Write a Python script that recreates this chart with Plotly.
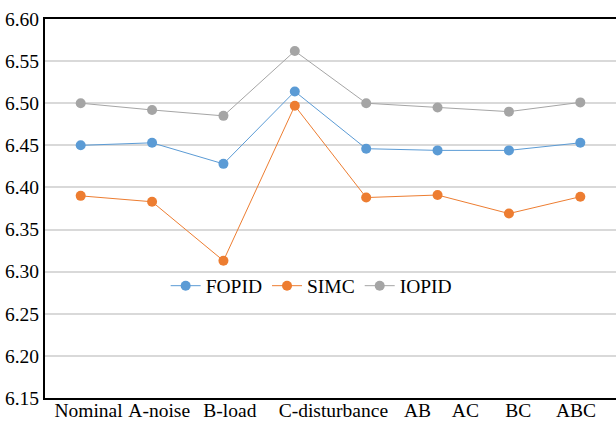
import plotly.graph_objects as go

categories = ["Nominal", "A-noise", "B-load", "C-disturbance", "AB", "AC", "BC", "ABC"]
fopid = [6.450, 6.453, 6.428, 6.514, 6.446, 6.444, 6.444, 6.453]
simc = [6.390, 6.383, 6.313, 6.497, 6.388, 6.391, 6.369, 6.389]
iopid = [6.500, 6.492, 6.485, 6.562, 6.500, 6.495, 6.490, 6.501]
y_ticks = [6.15, 6.20, 6.25, 6.30, 6.35, 6.40, 6.45, 6.50, 6.55, 6.60]

# category index of each point, and where each category label sits (as in the reference)
x_index = list(range(len(categories)))
label_positions = [0.11, 1.10, 2.09, 3.54, 4.72, 5.39, 6.13, 6.94]

series = [("FOPID", fopid, "#5B9BD5"), ("SIMC", simc, "#ED7D31"), ("IOPID", iopid, "#A5A5A5")]

fig = go.Figure()
for name, vals, color in series:
    fig.add_trace(go.Scatter(
        x=x_index, y=vals, name=name, mode="lines+markers",
        line=dict(color=color, width=1),
        marker=dict(color=color, size=10),
        customdata=categories,
        hovertemplate="%{customdata}: %{y}<extra>" + name + "</extra>",
    ))

ff = "Liberation Serif"
fs = 19.5
fig.update_layout(
    width=616, height=421,
    margin=dict(l=45, r=0, t=19, b=23, autoexpand=False),
    plot_bgcolor="white", paper_bgcolor="white",
    font=dict(family=ff, size=fs, color="#000000"),
    showlegend=True,
    legend=dict(orientation="h", x=0.467, xanchor="center", y=0.2955, yanchor="middle",
                font=dict(family=ff, size=fs, color="#000000"),
                bgcolor="rgba(0,0,0,0)", itemwidth=30, tracegroupgap=0),
    xaxis=dict(range=[-0.5, len(categories) - 0.5],
               tickvals=label_positions, ticktext=categories,
               showline=True, linecolor="#000000", linewidth=2, mirror=True,
               showgrid=False, zeroline=False, ticks="", tickangle=0, automargin=False,
               ticklabelstandoff=-6,
               tickfont=dict(family=ff, size=fs)),
    yaxis=dict(range=[6.15, 6.60], tickvals=y_ticks, ticktext=[f"{v:.2f}" for v in y_ticks],
               showline=True, linecolor="#000000", linewidth=2, automargin=False,
               showgrid=True, gridcolor="#D9D9D9", gridwidth=1.5, zeroline=False,
               ticks="", tickfont=dict(family=ff, size=fs)),
)

fig.write_html("out.html", config={"displayModeBar": False},
               post_script="document.body.style.margin='0';document.body.style.padding='0';")
